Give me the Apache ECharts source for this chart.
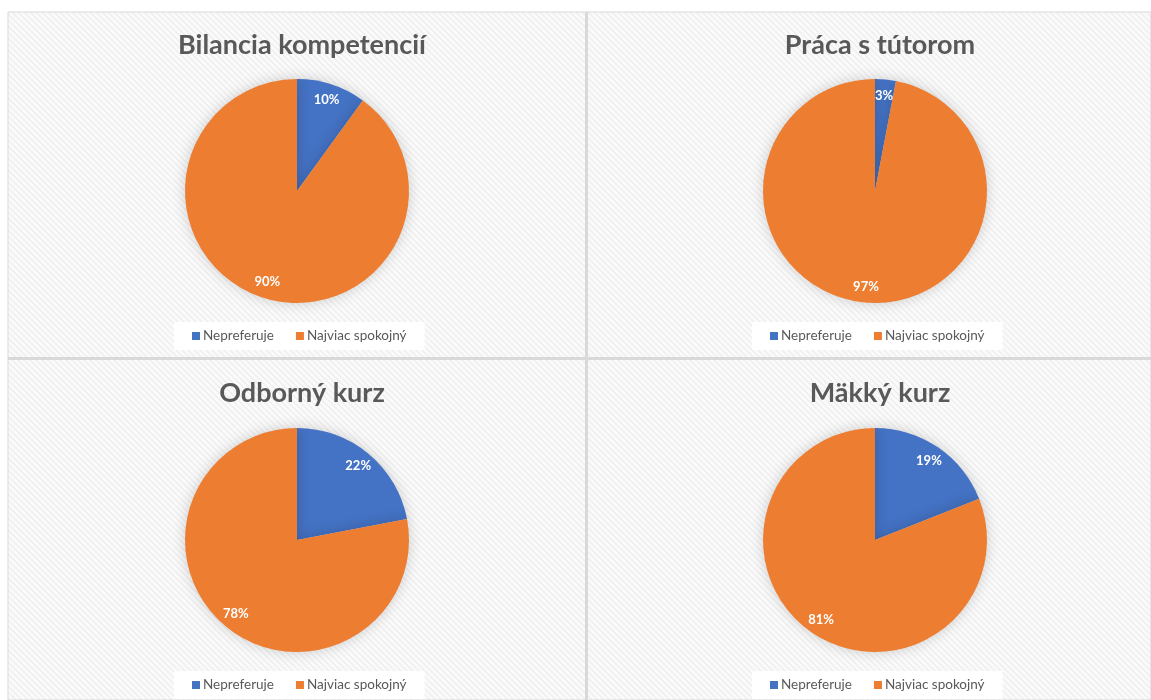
<!DOCTYPE html>
<html><head><meta charset="utf-8">
<script src="https://cdn.jsdelivr.net/npm/echarts@6/dist/echarts.min.js"></script>
<style>html,body{margin:0;padding:0;background:#fff}#c{width:1151px;height:700px}</style>
</head><body><div id="c"></div>
<script>
const titles = ['Bilancia kompetencií', 'Práca s tútorom', 'Odborný kurz', 'Mäkký kurz'];
const categories = ['Nepreferuje', 'Najviac spokojný'];
const nepreferuje = [10, 3, 22, 19];
const spokojny = [90, 97, 78, 81];
const colors = ['#4472C4', '#ED7D31'];

const panels = [
  {cx: 297, cy: 191, ty: 27, ly: 322},
  {cx: 875, cy: 191, ty: 27, ly: 322},
  {cx: 297, cy: 540, ty: 375, ly: 671},
  {cx: 875, cy: 540, ty: 375, ly: 671}
];
const R = 112;

// hatch pattern
const pc = document.createElement('canvas');
pc.width = 6; pc.height = 6;
const g = pc.getContext('2d');
g.fillStyle = '#fafafa'; g.fillRect(0, 0, 6, 6);
g.strokeStyle = '#ececec'; g.lineWidth = 1.2;
g.beginPath(); g.moveTo(0, 0); g.lineTo(6, 6); g.moveTo(-3, 3); g.lineTo(3, 9); g.moveTo(3, -3); g.lineTo(9, 3); g.stroke();

const chart = echarts.init(document.getElementById('c'), null, {renderer: 'canvas'});
const series = [], title = [], legend = [];
titles.forEach((t, i) => {
  const p = panels[i];
  const data = categories.map((c, k) => ({name: c, value: k === 0 ? nepreferuje[i] : spokojny[i]}));
  title.push({text: t, left: p.cx, top: p.ty, textAlign: 'center',
    textStyle: {fontFamily: 'Lato', fontWeight: 'bold', fontSize: 27, color: '#595959'}});
  legend.push({data: categories, left: p.cx - 123, top: p.ly, itemWidth: 8, itemHeight: 8,
    itemGap: 22, icon: 'rect', backgroundColor: '#ffffff', padding: [7, 18, 7, 18],
    textStyle: {fontFamily: 'Lato', fontSize: 13.5, color: '#595959', padding: [0, 0, 0, -2]}});
  series.push({type: 'pie', center: [p.cx, p.cy], radius: [0, R], startAngle: 90, clockwise: true,
    data: data, color: colors, label: {show: false}, labelLine: {show: false},
    itemStyle: {borderWidth: 0, shadowBlur: 14, shadowColor: 'rgba(0,0,0,0.18)'},
    emphasis: {disabled: true}, animation: false});
  series.push({type: 'pie', center: [p.cx, p.cy], radius: [R * 0.66, R], startAngle: 90, clockwise: true,
    data: data, color: ['rgba(0,0,0,0)', 'rgba(0,0,0,0)'], silent: true, legendHoverLink: false,
    itemStyle: {color: 'rgba(0,0,0,0)'},
    label: {show: true, position: 'inside', formatter: '{c}%', color: '#fff', fontFamily: 'Lato',
      fontWeight: 'bold', fontSize: 13}, labelLine: {show: false},
    emphasis: {disabled: true}, animation: false, z: 3});
});

chart.setOption({
  animation: false,
  backgroundColor: '#ffffff',
  graphic: [
    {type: 'rect', shape: {x: 8, y: 12, width: 1143, height: 688}, style: {fill: {image: pc, repeat: 'repeat'}, stroke: '#d9d9d9', lineWidth: 1}, z: -10, silent: true},
    {type: 'rect', shape: {x: 585, y: 12, width: 3, height: 688}, style: {fill: '#d9d9d9'}, z: -9, silent: true},
    {type: 'rect', shape: {x: 8, y: 357, width: 1143, height: 3}, style: {fill: '#d9d9d9'}, z: -9, silent: true}
  ],
  title: title,
  legend: legend,
  series: series
});
</script></body></html>
